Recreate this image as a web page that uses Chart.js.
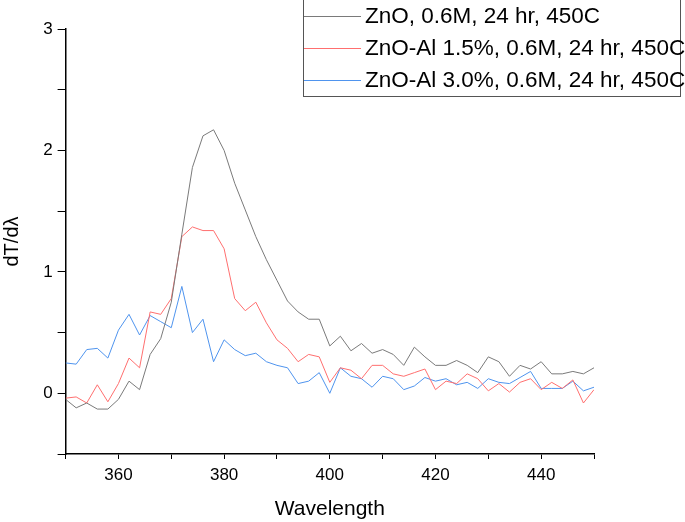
<!DOCTYPE html>
<html>
<head>
<meta charset="utf-8">
<script src="https://cdn.jsdelivr.net/npm/chart.js@4.4.1/dist/chart.umd.min.js"></script>
<style>
  html, body { margin: 0; padding: 0; background: #fff; }
</style>
</head>
<body>
<canvas id="chart" width="685" height="522"></canvas>
<script>
// wavelength (nm), 2 nm step
const wavelength = [350, 352, 354, 356, 358, 360, 362, 364, 366, 368,
                    370, 372, 374, 376, 378, 380, 382, 384, 386, 388,
                    390, 392, 394, 396, 398, 400, 402, 404, 406, 408,
                    410, 412, 414, 416, 418, 420, 422, 424, 426, 428,
                    430, 432, 434, 436, 438, 440, 442, 444, 446, 448, 450];

const zno = [-0.05, -0.12, -0.08, -0.13, -0.13, -0.05, 0.10, 0.03, 0.32, 0.45,
             0.75, 1.31, 1.86, 2.12, 2.17, 2.00, 1.73, 1.51, 1.29, 1.10,
             0.93, 0.76, 0.67, 0.61, 0.61, 0.39, 0.47, 0.35, 0.41, 0.33,
             0.36, 0.32, 0.23, 0.38, 0.30, 0.23, 0.23, 0.27, 0.23, 0.17,
             0.30, 0.26, 0.14, 0.23, 0.20, 0.26, 0.16, 0.16, 0.18, 0.16, 0.21];

const znoAl15 = [-0.04, -0.03, -0.08, 0.07, -0.07, 0.08, 0.29, 0.21, 0.67, 0.65,
                 0.78, 1.29, 1.37, 1.34, 1.34, 1.19, 0.78, 0.68, 0.75, 0.58,
                 0.44, 0.37, 0.26, 0.32, 0.30, 0.09, 0.21, 0.19, 0.12, 0.23,
                 0.23, 0.16, 0.14, 0.17, 0.20, 0.03, 0.10, 0.08, 0.16, 0.12,
                 0.02, 0.08, 0.01, 0.09, 0.12, 0.03, 0.09, 0.04, 0.11, -0.08, 0.03];

const znoAl30 = [0.25, 0.24, 0.36, 0.37, 0.29, 0.52, 0.65, 0.48, 0.64, 0.59,
                 0.54, 0.88, 0.50, 0.61, 0.26, 0.44, 0.36, 0.31, 0.33, 0.26,
                 0.23, 0.21, 0.08, 0.10, 0.17, 0.00, 0.21, 0.14, 0.12, 0.05,
                 0.14, 0.12, 0.03, 0.06, 0.13, 0.10, 0.12, 0.07, 0.09, 0.04,
                 0.12, 0.09, 0.08, 0.13, 0.18, 0.04, 0.04, 0.04, 0.10, 0.02, 0.05];

const seriesLabels = ['ZnO, 0.6M, 24 hr, 450C',
                      'ZnO-Al 1.5%, 0.6M, 24 hr, 450C',
                      'ZnO-Al 3.0%, 0.6M, 24 hr, 450C'];
const seriesColors = ['#7a7a7a', '#ff6f6f', '#4f94ee'];

const xLabelled = [360, 380, 400, 420, 440];
const yLabelled = [0, 1, 2, 3];

const toPoints = ys => wavelength.map((w, i) => ({ x: w, y: ys[i] }));

// legend drawn as a boxed list in the top right, over the plot
const boxLegend = {
    id: 'boxLegend',
    afterDraw(chart) {
        const ctx = chart.ctx;
        const left = 303, top = 0, w = 378, h = 96, row = 32;
        ctx.save();
        ctx.fillStyle = '#fff';
        ctx.fillRect(left, top, w, h);
        ctx.strokeStyle = '#555';
        ctx.lineWidth = 1;
        ctx.strokeRect(left + 0.5, top - 1, w - 1, h + 1.5);
        ctx.font = '22.5px "Liberation Sans", Arial, sans-serif';
        ctx.textBaseline = 'middle';
        chart.data.datasets.forEach((ds, i) => {
            const y = top + row / 2 + i * row;
            ctx.strokeStyle = ds.borderColor;
            ctx.beginPath();
            ctx.moveTo(left + 1, y + 0.5);
            ctx.lineTo(left + 58, y + 0.5);
            ctx.stroke();
            ctx.fillStyle = '#000';
            ctx.fillText(ds.label, left + 62, y + 1);
        });
        ctx.restore();
    }
};

Chart.defaults.font.family = '"Liberation Sans", Arial, sans-serif';
Chart.defaults.color = '#000';

new Chart(document.getElementById('chart'), {
    type: 'line',
    data: {
        datasets: [zno, znoAl15, znoAl30].map((ys, i) => ({
            label: seriesLabels[i],
            data: toPoints(ys),
            borderColor: seriesColors[i],
            backgroundColor: seriesColors[i],
            borderWidth: 1,
            pointRadius: 0,
            tension: 0
        }))
    },
    options: {
        responsive: false,
        animation: false,
        devicePixelRatio: 1,
        layout: { padding: { top: 29, right: 91, left: 0, bottom: 0 } },
        plugins: { legend: { display: false }, tooltip: { enabled: false } },
        scales: {
            x: {
                type: 'linear',
                min: 350,
                max: 450,
                afterFit: s => { s.height = 68; },
                ticks: {
                    stepSize: 10,
                    padding: 6,
                    font: { size: 17 },
                    maxRotation: 0,
                    callback: v => xLabelled.includes(v) ? String(v) : ''
                },
                grid: { drawOnChartArea: false, drawTicks: true, tickLength: 5, color: '#000', lineWidth: 1 },
                border: { color: '#000', width: 1.5 },
                title: { display: true, text: 'Wavelength', font: { size: 21 }, padding: { top: 0, bottom: 0 } }
            },
            y: {
                min: -0.5,
                max: 3,
                afterFit: s => { s.width = 65.6; },
                ticks: {
                    stepSize: 0.5,
                    padding: 5,
                    font: { size: 17 },
                    callback: v => yLabelled.includes(v) ? String(v) : ''
                },
                grid: { drawOnChartArea: false, drawTicks: true, tickLength: 8, color: '#000', lineWidth: 1 },
                border: { color: '#000', width: 1.5 },
                title: { display: true, text: 'dT/dλ', font: { size: 20 }, padding: { top: 0, bottom: 0 } }
            }
        }
    },
    plugins: [boxLegend]
});
</script>
</body>
</html>
